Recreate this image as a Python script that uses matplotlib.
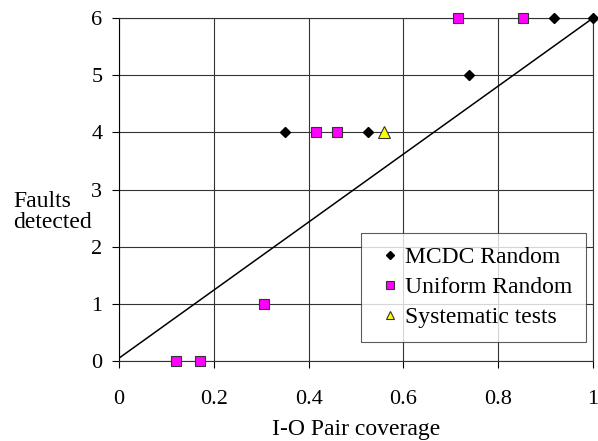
import matplotlib.pyplot as plt

plt.rcParams['font.family'] = 'Liberation Serif'

mcdc_x = [0.35, 0.525, 0.738, 0.917, 1.0]
mcdc_y = [4, 4, 5, 6, 6]
unif_x = [0.12, 0.171, 0.305, 0.416, 0.459, 0.716, 0.853]
unif_y = [0, 0, 1, 4, 4, 6, 6]
syst_x = [0.56]
syst_y = [4]
diag_x = [0, 1]
diag_y = [0.05, 6]

fig = plt.figure(figsize=(5.98, 4.41), dpi=100)
ax = fig.add_axes([0.199, 0.1814, 0.7926, 0.7776])

ax.plot(diag_x, diag_y, color='black', lw=1.1, zorder=2)
ax.plot(mcdc_x, mcdc_y, 'D', color='black', ms=5.5, ls='none',
        label='MCDC Random', zorder=3, clip_on=False)
ax.plot(unif_x, unif_y, 's', mfc='#ff00ff', mec='#333333', mew=0.8, ms=7.5,
        ls='none', label='Uniform Random', zorder=3, clip_on=False)
ax.plot(syst_x, syst_y, '^', mfc='#ffff00', mec='#333333', mew=0.8, ms=8,
        ls='none', label='Systematic tests', zorder=3, clip_on=False)

ax.set_xlim(0, 1)
ax.set_ylim(0, 6)
ax.set_xticks([0, 0.2, 0.4, 0.6, 0.8, 1])
ax.set_xticklabels(['0', '0.2', '0.4', '0.6', '0.8', '1'])
ax.set_yticks(range(7))
ax.grid(True, color='#333333', lw=0.8)
ax.set_axisbelow(True)
for s in ax.spines.values():
    s.set_color('#333333')
    s.set_linewidth(0.8)
ax.spines['left'].set_color('black')
ax.tick_params(axis='x', length=5, width=0.8, pad=16, labelsize=16, direction='out')
ax.tick_params(axis='y', length=5, width=0.8, pad=7, labelsize=16, direction='out')

ax.set_xlabel('I-O Pair coverage', fontsize=17, labelpad=7)
fig.text(13 / 598, 1 - 212 / 441, 'Faults\ndetected', fontsize=17,
         ha='left', va='center', multialignment='left', linespacing=1.05)

leg = ax.legend(loc='lower right', bbox_to_anchor=(0.986, 0.055), fontsize=17,
                frameon=True, fancybox=False, edgecolor='#333333',
                handlelength=1.2, handletextpad=0.05, borderpad=0.6,
                borderaxespad=0, labelspacing=0.35, markerscale=0.8)
leg.get_frame().set_linewidth(0.8)

fig.savefig('out.png', dpi=100)
